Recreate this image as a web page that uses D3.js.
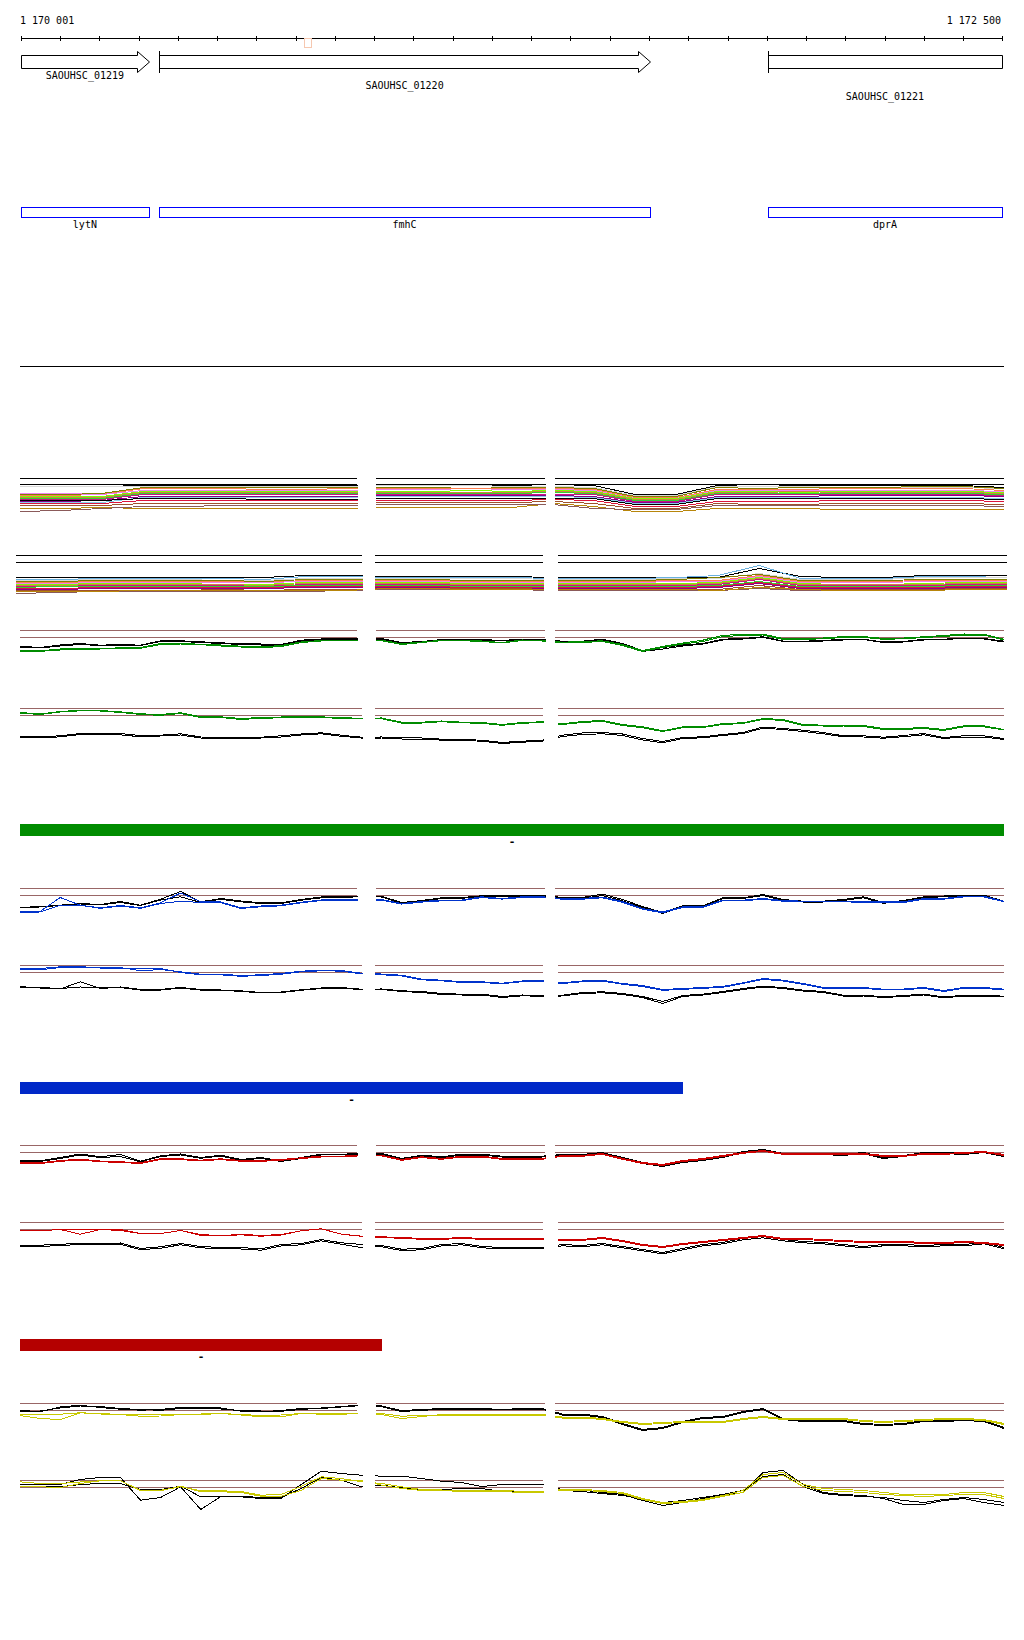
<!DOCTYPE html>
<html><head><meta charset="utf-8">
<script src="https://cdn.jsdelivr.net/npm/d3@7"></script>
<style>
body{margin:0;background:#fff}
svg{display:block}
text{font-family:"DejaVu Sans Mono",monospace;font-size:10px;fill:#000}
text.dash{font-weight:bold;font-size:11px}
line,rect,path{shape-rendering:crispEdges}
</style>
</head><body><div id="chart"></div>
<script>
// ---------- DATA ----------
const regionStart = 1170001, regionEnd = 1172500, tickStep = 100;
const rulerLabels = ["1 170 001", "1 172 500"];
const geneIds = ["SAOUHSC_01219", "SAOUHSC_01220", "SAOUHSC_01221"];
const geneNames = ["lytN", "fmhC", "dprA"];
const geneStarts = [1170001, 1170354, 1171905];
const geneEnds = [1170328, 1171603, 1172499];
const geneHasArrow = [true, true, false];
const geneHasStartBar = [false, true, true];
const geneLabelRow = [0, 1, 2];
const markerStart = 1170722, markerEnd = 1170739;
const barFractions = [1.0, 0.674, 0.368];
const barColors = ["#008c00", "#0028c8", "#b40000"];
const barLabels = ["-", "-", "-"];

// multi-colour tracks (25 samples across the window)
const multiColors1 = ["#000000","#d8d8d8","#808000","#ff7f50","#ee82ee","#7cfc00","#cd853f","#32cd32","#c71585","#8b008b","#87ceeb","#000000","#dc143c","#a0522d","#b8860b","#8b5a5a"];
const multiValues1 = [
 [6,6,6,7,7,7,7,7,7, 6,6,6,7, 6,7,16,16,7,6,7,7,7,7,7,9],
 [8,8,8,8,8,8,8,8,8, 7,7,7,8, 8,9,17,17,8,8,8,9,9,9,9,10],
 [16,16,15,9,9,9,9,9,9, 9,9,10,9, 9,10,18,18,9,10,9,9,9,8,8,10],
 [17,17,16,10,10,10,11,11,10, 10,10,10,10, 10,11,19,19,11,11,11,10,10,10,10,12],
 [15,15,16,12,12,12,12,12,12, 11,11,12,11, 11,12,20,20,12,12,12,12,12,12,12,13],
 [18,18,18,13,13,13,13,13,13, 13,13,12,13, 12,13,20,20,13,13,14,13,13,13,13,14],
 [19,19,19,14,14,14,14,14,14, 14,14,14,14, 13,14,21,21,14,14,13,14,14,14,14,15],
 [20,20,20,15,15,15,15,15,15, 15,15,15,15, 14,15,22,22,15,15,15,15,15,15,15,16],
 [21,21,21,16,16,16,16,16,16, 16,16,16,16, 16,16,23,23,16,16,16,16,16,16,16,17],
 [23,23,22,18,18,18,18,18,18, 17,17,17,17, 17,18,24,24,18,18,18,17,17,17,17,18],
 [24,24,24,19,19,19,19,19,19, 18,18,18,18, 18,19,25,25,19,19,19,19,19,19,19,20],
 [22,22,22,20,20,20,21,21,21, 20,20,20,20, 20,20,26,26,20,20,20,20,20,20,20,21],
 [25,25,25,22,22,22,22,22,22, 22,22,22,22, 21,22,28,28,23,23,23,22,22,22,22,23],
 [27,27,27,25,25,25,25,25,25, 24,24,24,24, 23,25,30,30,25,26,26,25,25,25,25,26],
 [30,30,29,30,30,30,30,30,30, 29,29,29,29, 25,28,33,33,30,30,30,31,31,31,31,31],
 [33,32,30,28,28,27,27,27,27, 26,26,26,26, 26,30,31,31,27,27,27,27,27,27,27,28]
];
const multiColors2 = ["#000000","#6ab0de","#d8d8d8","#808000","#ff7f50","#ee82ee","#7cfc00","#cd853f","#c71585","#32cd32","#dc143c","#8b008b","#a0522d","#8b5a5a","#b8860b"];
const multiValues2 = [
 [22,22,22,22,22,22,22,20,20, 21,21,21,21, 22,22,22,22,22,13,21,22,22,20,20,20],
 [24,24,23,23,23,23,24,21,21, 22,22,22,22, 23,23,23,22,20,10,23,23,23,21,21,22],
 [25,25,24,24,24,25,25,23,23, 23,23,23,23, 24,24,24,23,23,18,24,24,24,22,22,22],
 [26,26,25,25,25,25,26,24,24, 24,24,25,25, 25,25,25,24,22,19,25,25,25,24,24,24],
 [27,27,26,26,26,26,27,25,25, 25,25,26,26, 26,26,26,25,25,20,26,26,26,25,25,25],
 [28,28,27,27,27,27,27,26,26, 26,26,27,27, 27,27,27,26,26,21,27,27,27,26,26,26],
 [29,29,28,28,28,29,29,27,27, 27,27,28,28, 28,28,28,28,27,22,28,29,29,28,27,27],
 [30,30,29,29,29,29,30,28,28, 28,28,29,29, 29,29,29,29,28,23,29,29,29,29,28,28],
 [31,31,30,30,30,30,31,29,29, 29,29,30,30, 30,30,30,30,29,24,30,30,30,30,29,29],
 [32,31,31,31,31,31,31,30,30, 30,30,31,31, 31,31,31,31,30,26,31,31,31,31,30,30],
 [33,33,32,32,32,32,32,31,31, 31,31,32,32, 32,32,32,32,31,27,32,32,32,32,31,31],
 [34,34,33,33,33,33,33,32,32, 32,32,33,33, 33,33,33,33,32,28,33,33,33,33,32,32],
 [35,35,35,35,35,34,35,34,34, 33,33,33,33, 34,34,34,34,34,30,34,34,34,34,33,33],
 [38,37,36,36,36,36,36,36,35, 34,34,34,34, 35,35,35,35,35,33,35,35,35,35,34,34],
 [36,36,36,35,35,35,35,35,35, 33,33,34,34, 34,34,34,34,35,32,34,35,35,35,34,34]
];

// profile tracks (50 samples across the window; depth below the upper threshold)
const green1Black = [
 [15.7,17,14.5,13,14.7,14,14.7,10.3,10.3,11.3,12.3,13.3,13.5,14,9.7,8.5,8.3, 8,8,12,11,9,9,9,10,8.7,8.7, 10.7,10.7,8.7,13,20,17,14.5,13,8.7,8,6.3,10.5,10.7,10,8.7,8.7,11.5,11,8.7,8.7,7.5,8,10.7],
 [16.5,17.5,15.5,14,15,15,15,11,11,12,13,14,14.5,14.5,10.5,9,8.5, 8.5,8.5,12.5,11.5,9.5,9.5,9.5,10.5,9,9, 11,11,9.5,14,21,18.5,15.5,13.5,9.5,8.5,7,11,11.5,10.5,9.5,9,12,11.5,9.5,9,8,8.5,11.5]];
const green1Color = [
 [20.3,20.3,18.5,18,18,17.3,17,13,13,13.7,14.5,15.7,16.5,15,11.5,10,9.7, 9.5,9.7,13.3,11.5,9.7,9.7,10.5,12,9.5,10, 11.7,11,10.3,14,20,16,12.5,9.7,4.7,4.2,3.7,8,8.3,7.5,6,6,8,7.5,6.3,5,3.5,3.7,8.7],
 [20.8,20.8,19.5,18.5,18.5,18,17.8,14,13.5,14.2,15.5,16.5,17.3,16,12,10.5,10, 10,10.2,14,12,10.2,10.2,11,12.5,10,10.5, 12.3,12,11,15,21,17,13.5,11,6,5,4.5,9,9,8.2,7,6.8,8.8,8.3,7,6,4.5,4.5,9.5]];
const green2Black = [
 [28.3,28.3,27.3,25,25,25,27,26.7,25.3,28.5,28.7,29.3,28.7,27.3,25.5,24.3,26.7,28.7, 28.5,29.3,29.5,30.7,31,31.7,34,32.7,31.7, 26.7,24.5,24,25.5,30,33,29,28.3,26,24,18.5,20,21.7,24,27.3,27.3,28.7,27,25,29,27.3,27.3,30],
 [29.3,29.5,28.3,26,26,26.3,28.3,27.5,26.5,29.5,29.5,30.3,29.5,28.5,26.5,25.3,27.8,29.5, 29.5,30.5,30.5,31.7,32,32.7,35,33.7,32.7, 28,26,25.3,27,31.5,34.3,30,29.3,27,25,19.7,21,23,25.3,28.3,28.5,29.7,28.2,26.3,30,28.5,28.5,31]];
const green2Color = [
 [4,5.5,3,1.7,2,3.3,5.3,6,4.3,8.3,8.3,10,9,8.5,8.3,8.3,9.3,9.7, 9.5,13.7,13.7,12.5,13.7,14,16,14,13.3, 15.3,13,12,16,18.3,22.3,18.3,18.3,15,14.3,10,11,16,16.7,16.7,17,20,20,19,21,17.3,17.3,21],
 [4.5,6,3.5,2.3,2.5,4,6,6.8,5,9,9,11,9.8,9.3,9,9,10,10.3, 10.2,14.5,14.5,13.2,14.3,14.8,16.8,14.8,14, 16,14,12.8,17,19.3,23,19.2,19,16,15,10.8,12,17,17.5,17.5,18,21,21,20,22,18.3,18.3,21.5]];
const blue1Black = [
 [19,18,16.7,15,16,13,16.7,10.7,3,13.3,10,12.5,14.3,14.3,11,8.5,8.3, 7.7,7.7,14,12,9.3,9,7.3,7.3,7,6.5, 9,9,5.5,11,18,24,17.3,17.3,9.3,9.3,6,11,12.7,12.7,11,8.3,14,12,8.3,7.5,6.7,6.7,12.7],
 [19,18.5,17,15.5,16.5,14,17,11.5,8.3,14,10.8,13.3,15,15,11.8,9.3,8.8, 8.3,8.5,14.8,12.8,10,9.8,8,8,7.8,7.3, 9.8,9.8,7,12.2,19,25,18.2,18,10,10,7,11.8,13.5,13.5,12,9.3,14.8,12.8,9,8.3,7.3,7.3,13.3]];
const blue1Color = [
 [23.3,23,9,16.7,19.3,17,19.3,14.3,4.5,13.3,13.5,19.3,17.5,16.7,13.7,11.5,11, 11,11,15,13,11.7,11.5,8.3,10,8.3,8.3, 10,10,8.5,13,20,23.5,18.3,18.3,11.7,11.7,10,12,12.7,12.7,12.7,13,13.3,13.3,10,10,7.7,7.7,12.7],
 [23.8,23.5,16.7,16.7,19.8,17.5,19.8,15,12.7,14,14.2,20,18.2,17.3,14.3,12,11.6, 11.6,11.6,15.6,13.6,12.3,12.2,9,10.6,9,9, 10.7,10.7,9.3,13.8,20.8,24.3,19,19,12.3,12.3,10.7,12.7,13.4,13.4,13.4,13.7,14,14,10.7,10.7,8.4,8.4,13.3]];
const blue2Black = [
 [21.3,22,23,21.5,22.3,21.5,24,24,22,24,24.5,25.3,27,26.5,24.3,22.5,22,23.7, 23.5,25.3,26,28,28.7,28.7,31,29.5,30, 29.7,27,26.3,28,31,36,30,28.7,26,23,20.7,22,24.7,26,29.7,29.7,31.3,30,28.7,31.5,29.7,29.7,30.7],
 [21.8,22.5,23.5,16.3,22.8,22,24.5,24.5,22.5,24.6,25,25.8,27.5,27,24.8,23,22.5,24.2, 24,26,27,29,29.5,29.5,32,30.3,30.8, 30.5,28,27.3,29,32,38,31,29.5,27,24,21.5,23,25.5,27,30.5,30.5,32,31,29.5,32.3,30.5,30.5,31.3]];
const blue2Color = [
 [3,3,1.3,1.3,2,2,5.3,4,6.3,8.7,8.7,10,9.3,8,5.7,4.7,5,7.7, 8.5,9.7,13.7,14.7,16.3,16.3,17.7,15.5,15.3, 17.3,15.5,14.7,18,20,24,23,22,21,17.3,13,14.7,18,22,22,22,23.7,23.5,22,25,22,22,23.7],
 [4.3,4.3,2,1.8,2.5,2.5,2.7,3,7,9.3,9.3,10.8,10,8.8,6.3,5.3,5.6,8.3, 9.2,10.5,14.3,15.3,17,17,18.3,16.2,16, 18,16.2,15.5,18.8,21,24.8,23.8,22.8,21.8,18,13.8,15.5,18.8,22.8,22.8,22.8,24.5,24.3,22.8,26,22.8,22.8,24.5]];
const red1Black = [
 [15.3,15.3,12,8.5,11.3,9,15.7,10.3,8.5,12,9.7,14,12,15.3,12,8.7,8.7, 8,8,13,9.7,11.3,8.7,8.7,10.7,10.7,10.7, 9,9,7,12,17,20,16,14,11,6,4,8,8,8,9,7,12,10,7,7,8,6,10],
 [16,16,13,9.5,12,11,16.3,11,9.5,12.8,10.5,14.8,12.8,16,13,9.5,9.3, 8.7,8.7,13.8,10.5,12,9.5,9.5,11.5,11.5,11.5, 10,10,8,13,18,21,17,15,12,7,5,9,9,9,10,8,13,11,8,8,9,7,11]];
const red1Color = [
 [17.3,17.3,15,13.7,15.5,16.3,17.3,13.3,13.3,14.7,13.3,15,15,14,12.3,10.7,10.7, 9.7,9.7,14,11.3,13,10.7,10.7,13,13,13, 10,10,8,13,17,19,15,13,10,7,5,8,8,8,8,8,10,10,8,8,7,6,9],
 [18,18,15.8,14.5,16.2,17,18,14,14,15.5,14,15.8,15.8,14.8,13,11.5,11.3, 10.3,10.3,14.8,12,13.8,11.5,11.5,13.8,13.8,13.8, 10.8,10.8,8.8,13.8,18,20,16,14,11,7.8,5.8,8.8,8.8,8.8,8.8,8.8,10.8,10.8,8.8,8.8,7.8,6.8,10]];
const red2Black = [
 [22.7,22.7,21.7,21,21,20.5,26,24.3,21,24,25,25,26.5,22,21,17,20.3,22, 23,26.7,26,22,21,24,25,25,25, 22,23,21,24,27,30,26,22,20,16,14,17,19,20,22,24,22,22,23,22,22,20,25],
 [24,24,23,22,22,21.7,27.3,25.7,22.3,25.3,26.3,26.5,27.7,23.5,22.3,18.3,21.7,25, 24.3,28,27.3,23.3,22.3,25.3,26.3,26.3,26.3, 23.3,24.3,22.3,25.3,28.3,31.3,27.3,23.3,21.3,17.3,15.3,18.3,20.3,21.3,23.3,25.3,23.3,23.3,24.3,23.3,23.3,21.3,26.3]];
const red2Color = [
 [8.3,8.3,7,7,7,8,11,11,8,12,13.3,11.7,13,12,8.3,6.3,11.7,13.7, 14.3,15,16,16,15,16,16.3,16.3,16, 17,17,15,18,22,24,21,19,17,15,13,16,16,17,18,19,19,19,20,20,19,20,22],
 [8.3,8.3,7,11.7,7,7,11,11,8,13,13.3,12.3,13.7,12.5,8.3,6.3,11.7,13.7, 15,15.8,16.8,16.8,16,16.8,17,17,16.8, 17.8,17.8,16,19,23,25,22,20,18,16,14,17,17,18,19,20,20,20,21,21,20,21,23]];
const yellow1Black = [
 [6.7,8.3,3.5,1.7,4,5.7,6.7,6,4,4.3,4.5,7.7,8.3,7,5,5,3.5, 2,2.5,7,6,5,5,5,6,5,5, 10.5,10.5,13,20,26,24,18,14,13,8,5,15,17,17,17,20,21,20,17,17,16,17,24],
 [7.5,7.5,4.5,2.5,3,5,6,6.8,5,5,5.5,7,7.5,7.8,6,4.5,3, 1.5,3.2,8,6.8,5.8,5.8,5.8,6.5,5.8,5.8, 11.5,11.5,14,21,27,25,19,15,14,9,6,16,18,18,18,21,22,21,18,18,17,18,25]];
const yellow1Color = [
 [12,15,16,9.3,10.5,11,12.7,12.5,11,11,10,11.5,13.3,13.3,10,10.7,10.7, 10,11,15,13,11,11,11,11,11,11, 13.5,13.5,15,18,20,19,18,18,18,15,13,15,15,15,15,17,18,17,16,15,15,16,20],
 [10.7,10.7,10.7,9.3,10,11,11.5,11,11,10.5,10,11,12,11.5,10,10.5,10, 9.5,10,12.7,12,11.7,11.7,11.7,11.7,11.7,11.7, 14.5,14.5,16,19,21,20,19,19,19,16,14,16,16,16,16,18,19,18,17,16,16,17,21]];
const yellow2Black = [
 [4,4,4,-1,-3,-3,19.7,17,6.3,29,16,16.3,18,18,4,-9.3,-7,-5.3, -4.3,-4.3,-2,0.7,2,6,4,4,4, 9,9.5,12,14,20,25,22,18,15,12,-8,-10,4,12,14,15,18,24,24,20,18,22,25],
 [6.3,6.3,6.3,4,3,3,9,9,5.7,16.3,16,15.7,17,17,8,-3,-0.3,6.3, 4.7,7.3,9,9,8,8,11,11.3,11.3, 10,11,13,15,18,22,20,17,14,10,-4,-6,6,13,15,16,17,20,22,19,17,19,22]];
const yellow2Color = [
 [1.3,3,3,1.5,0.3,0.3,9.7,9.7,6.3,10.3,10.3,11,14.7,14,6,-3.7,-2,1.3, 3,6.3,9,9.5,9.7,9.7,9.7,11,11, 9,9,10,12,18,22,21,19,15,10,-6,-8,4,8,9,10,12,14,14,14,12,12,16],
 [6.3,6.3,7,3,0.3,0.3,10.3,10.3,5.7,11.3,11.3,12,15.7,15.7,10,-2,-0.3,-0.3, 4.7,8,10,10.3,10.7,10.7,11,12,12, 10,10,11,13,19,23,22,20,16,12,-3,-5,6,10,11,12,14,15,16,15,14,14,18]];

// ---------- LAYOUT ----------
const W = 1024, H = 1640;
const svg = d3.select("#chart").append("svg").attr("width", W).attr("height", H);
const defs = svg.append("defs");
const px = v => Math.round(v) + 0.5;

const xG = d3.scaleLinear().domain([regionStart, regionEnd]).range([20.7, 1002]);

// ruler
const rulerY = 38;
svg.append("line").attr("x1", xG(regionStart)).attr("x2", xG(regionEnd))
  .attr("y1", px(rulerY)).attr("y2", px(rulerY)).attr("stroke", "#000");
const ticks = d3.range(regionStart, regionEnd, tickStep).concat([regionEnd]);
svg.append("g").selectAll("line").data(ticks).join("line")
  .attr("x1", d => px(xG(d))).attr("x2", d => px(xG(d)))
  .attr("y1", rulerY - 2).attr("y2", rulerY + 3).attr("stroke", "#000");
svg.append("text").attr("x", 20).attr("y", 24).text(rulerLabels[0]);
svg.append("text").attr("x", 1001).attr("y", 24).attr("text-anchor", "end").text(rulerLabels[1]);
svg.append("rect").attr("x", px(xG(markerStart))).attr("y", 38.5)
  .attr("width", Math.round(xG(markerEnd) - xG(markerStart))).attr("height", 9)
  .attr("fill", "none").attr("stroke", "#f6c8b0");

// genes
const labelYs = [79, 89, 100];
geneIds.forEach((id, i) => {
  const x0 = px(xG(geneStarts[i])), x1 = px(xG(geneEnds[i]));
  const top = 55.5, bot = 68.5, hTop = 51.5, hBot = 72.5, mid = 62;
  let d;
  if (geneHasArrow[i]) {
    const xh = x1 - 12;
    d = `M${x0},${top}H${xh}V${hTop}L${x1},${mid}L${xh},${hBot}V${bot}H${x0}Z`;
  } else {
    d = `M${x0},${top}H${x1}V${bot}H${x0}Z`;
  }
  svg.append("path").attr("d", d).attr("fill", "#fff").attr("stroke", "#000")
    .style("shape-rendering", "auto").attr("stroke-width", 1);
  if (geneHasStartBar[i]) {
    svg.append("line").attr("x1", x0).attr("x2", x0).attr("y1", 51).attr("y2", 73).attr("stroke", "#000");
  }
  svg.append("text").attr("x", (xG(geneStarts[i]) + xG(geneEnds[i])) / 2)
    .attr("y", labelYs[geneLabelRow[i]]).attr("text-anchor", "middle").text(id);
  svg.append("rect").attr("x", x0).attr("y", 207.5).attr("width", x1 - x0).attr("height", 10)
    .attr("fill", "none").attr("stroke", "#0000ff").attr("stroke-width", 1.2);
  svg.append("text").attr("x", (xG(geneStarts[i]) + xG(geneEnds[i])) / 2)
    .attr("y", 227.5).attr("text-anchor", "middle").text(geneNames[i]);
});

// separator
svg.append("line").attr("x1", 20).attr("x2", 1004).attr("y1", 366.5).attr("y2", 366.5).attr("stroke", "#000");

// ---------- TRACKS ----------
const panelsA = [[20, 357], [376, 545], [555, 1004]];
const panelsB = [[20, 362], [375, 543], [558, 1004]];
const panelsM2 = [[16, 362], [375, 543], [558, 1007]];
let clipN = 0;

function drawTrack(top, panels, thresholdColor, thresholds, seriesList, xScale, curve) {
  const y = d3.scaleLinear().domain([0, 10]).range([top, top + 10]);
  panels.forEach(([a, b]) => {
    thresholds.forEach(t => {
      svg.append("line").attr("x1", a).attr("x2", b)
        .attr("y1", px(y(t))).attr("y2", px(y(t))).attr("stroke", thresholdColor);
    });
    const id = "clip" + (clipN++);
    defs.append("clipPath").attr("id", id).append("rect")
      .attr("x", a).attr("y", top - 40).attr("width", b - a + 1).attr("height", 100);
    const g = svg.append("g").attr("clip-path", `url(#${id})`);
    const line = d3.line().x((d, i) => xScale(i)).y(d => y(d) + 0.5).curve(curve);
    seriesList.forEach(s => {
      g.append("path").datum(s.values).attr("d", line)
        .attr("fill", "none").attr("stroke", s.color).attr("stroke-width", 1);
    });
  });
}

const xMA = d3.scaleLinear().domain([0, 24]).range([20, 1004]);
const xMB = d3.scaleLinear().domain([0, 24]).range([16, 1007]);
const xP = d3.scaleLinear().domain([0, 49]).range([20, 1004]);

drawTrack(478, panelsA, "#000", [0, 6],
  multiValues1.map((v, k) => ({values: v, color: multiColors1[k]})), xMA, d3.curveLinear);
drawTrack(555, panelsM2, "#000", [0, 7],
  multiValues2.map((v, k) => ({values: v, color: multiColors2[k]})), xMB, d3.curveLinear);

const profiles = [
  {top: 630, panels: panelsA, black: green1Black, col: green1Color, color: "#008c00"},
  {top: 708, panels: panelsB, black: green2Black, col: green2Color, color: "#008c00"},
  {top: 888, panels: panelsA, black: blue1Black, col: blue1Color, color: "#0033cc"},
  {top: 965, panels: panelsB, black: blue2Black, col: blue2Color, color: "#0033cc"},
  {top: 1145, panels: panelsA, black: red1Black, col: red1Color, color: "#cc0000"},
  {top: 1222, panels: panelsB, black: red2Black, col: red2Color, color: "#cc0000"},
  {top: 1403, panels: panelsA, black: yellow1Black, col: yellow1Color, color: "#c8c800"},
  {top: 1480, panels: panelsB, black: yellow2Black, col: yellow2Color, color: "#c8c800"}
];
profiles.forEach(p => {
  const list = p.black.map(v => ({values: v, color: "#000"}))
    .concat(p.col.map(v => ({values: v, color: p.color})));
  drawTrack(p.top, p.panels, "#996666", [0, 7], list, xP, d3.curveLinear);
});

// summary bars
const xBar = d3.scaleLinear().domain([0, 1]).range([20, 1004]);
const barYs = [824, 1082, 1339];
barFractions.forEach((f, i) => {
  svg.append("rect").attr("x", xBar(0)).attr("y", barYs[i])
    .attr("width", xBar(f) - xBar(0)).attr("height", 12).attr("fill", barColors[i]);
  svg.append("text").attr("class", "dash").attr("x", (xBar(0) + xBar(f)) / 2).attr("y", barYs[i] + 21)
    .attr("text-anchor", "middle").text(barLabels[i]);
});
</script>
</body></html>
